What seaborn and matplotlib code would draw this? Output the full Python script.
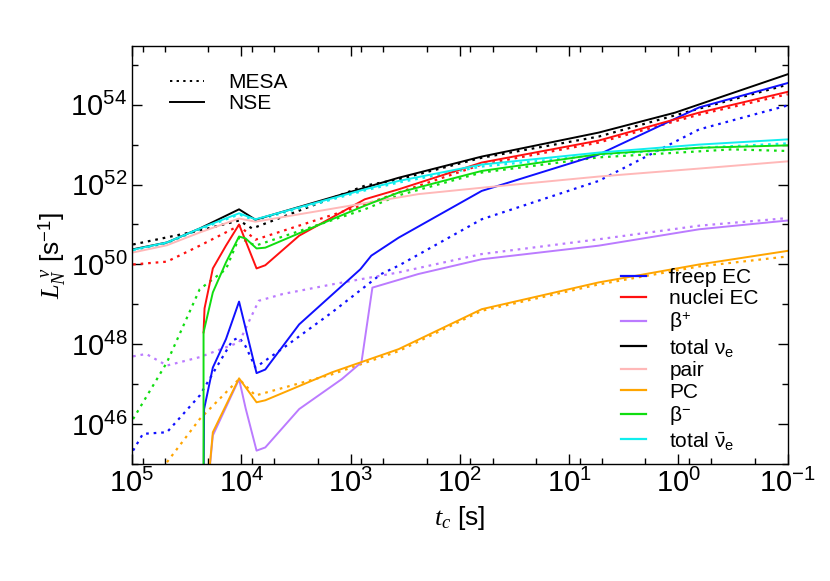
import numpy as np
import matplotlib
matplotlib.use("Agg")
import matplotlib.pyplot as plt
import seaborn as sns
from matplotlib.lines import Line2D
from matplotlib.ticker import LogLocator, NullFormatter, FixedLocator

plt.rcParams['font.family'] = 'Liberation Sans'
plt.rcParams['mathtext.fontset'] = 'custom'
plt.rcParams['mathtext.rm'] = 'Liberation Sans'
plt.rcParams['mathtext.it'] = 'Liberation Serif:italic'

# log10(t_c) and log10(L); NSE = solid, MESA = dotted
freep_t = [4.345, 4.34, 4.26, 4.14, 4.02, 3.86, 3.78, 3.47, 2.91, 2.81, 2.56, 1.80, 0.73, -0.19, -1.0]
freep_L = [44.0, 46.38, 47.42, 48.13, 49.07, 47.28, 47.37, 48.5, 49.88, 50.22, 50.67, 51.84, 52.75, 53.93, 54.54]
freep_mt = [4.99, 4.90, 4.68, 4.38, 4.08, 4.02, 3.96, 3.87, 3.62, 3.17, 2.72, 2.56, 1.80, 0.73, -0.19, -1.0]
freep_mL = [45.34, 45.76, 45.8, 46.72, 48.1, 48.17, 47.95, 47.42, 47.9, 48.8, 49.76, 49.97, 51.13, 52.09, 53.38, 53.98]

nuc_t = [4.345, 4.336, 4.26, 4.14, 4.02, 3.86, 3.78, 3.47, 2.87, 2.56, 1.80, 0.73, -0.19, -1.0]
nuc_L = [48.3, 48.9, 49.9, 50.47, 51.0, 49.9, 49.98, 50.72, 51.63, 51.88, 52.55, 53.1, 53.8, 54.32]
nuc_mt = [4.99, 4.68, 4.38, 4.02, 3.87, 2.87, 2.56, 1.80, 0.73, -0.19, -1.0]
nuc_mL = [50.0, 50.07, 50.47, 50.97, 50.62, 51.5, 51.8, 52.5, 53.05, 53.75, 54.26]

bplus_t = [4.32, 4.26, 4.02, 3.96, 3.86, 3.78, 3.47, 3.08, 2.90, 2.80, 2.38, 1.80, 0.73, -0.19, -1.0]
bplus_L = [44.0, 45.72, 47.13, 46.4, 45.34, 45.42, 46.38, 47.13, 47.55, 49.42, 49.76, 50.13, 50.47, 50.88, 51.1]
bplus_mt = [4.99, 4.87, 4.68, 4.38, 4.02, 3.84, 3.62, 3.17, 2.56, 1.80, 0.73, -0.19, -1.0]
bplus_mL = [47.7, 47.76, 47.47, 47.68, 48.05, 49.09, 49.26, 49.5, 49.8, 50.26, 50.63, 50.97, 51.16]

tot_t = [4.99, 4.68, 4.38, 4.02, 3.87, 2.87, 2.56, 1.80, 0.73, 0.03, -1.0]
tot_L = [50.38, 50.55, 50.9, 51.38, 51.12, 51.92, 52.17, 52.7, 53.3, 53.8, 54.76]
tot_mt = [4.99, 4.38, 4.02, 3.90, 2.87, 2.56, 1.80, 0.73, -0.19, -1.0]
tot_mL = [50.5, 50.85, 51.1, 50.9, 51.97, 52.13, 52.67, 53.2, 53.9, 54.5]

pair_t = [4.99, 4.68, 4.38, 4.02, 3.87, 2.38, 1.80, 0.73, -0.19, -1.0]
pair_L = [50.3, 50.48, 50.8, 51.15, 51.07, 51.76, 51.92, 52.2, 52.4, 52.58]

pc_t = [4.32, 4.26, 4.02, 3.86, 3.78, 3.17, 2.56, 1.80, 0.73, -0.19, -1.0]
pc_L = [44.0, 45.8, 47.15, 46.55, 46.6, 47.3, 47.88, 48.88, 49.55, 50.0, 50.34]
pc_mt = [4.68, 4.38, 4.02, 3.87, 3.17, 2.56, 1.80, 0.73, -0.19, -1.0]
pc_mL = [45.05, 46.13, 47.13, 46.72, 47.25, 47.83, 48.84, 49.5, 49.95, 50.2]

bminus_t = [4.345, 4.345, 4.26, 4.14, 4.02, 3.96, 3.86, 3.78, 3.17, 2.87, 2.56, 1.80, 0.73, -0.19, -1.0]
bminus_L = [44.0, 48.3, 49.3, 50.05, 50.7, 50.65, 50.4, 50.42, 51.13, 51.47, 51.8, 52.34, 52.76, 52.92, 52.98]
bminus_mt = [4.99, 4.68, 4.38, 4.14, 4.02, 3.87, 2.87, 2.56, 1.80, 0.73, -0.49, -1.0]
bminus_mL = [46.13, 47.55, 49.38, 49.88, 50.67, 50.47, 51.38, 51.73, 52.3, 52.68, 52.88, 52.84]

anti_t = [4.99, 4.68, 4.38, 4.02, 3.87, 2.87, 2.56, 1.80, 0.73, -0.19, -1.0]
anti_L = [50.37, 50.55, 50.9, 51.28, 51.13, 51.88, 52.09, 52.5, 52.8, 53.0, 53.13]
anti_mt = [4.99, 4.68, 4.38, 4.02, 3.87, 2.87, 2.56, 1.80, 0.73, -0.19, -1.0]
anti_mL = [50.35, 50.53, 50.88, 51.25, 51.1, 51.85, 52.05, 52.45, 52.74, 52.92, 53.03]

series = [
    ("freep EC", "#1010ff", freep_t, freep_L, freep_mt, freep_mL),
    ("nuclei EC", "#ff1010", nuc_t, nuc_L, nuc_mt, nuc_mL),
    (r"β$^{+}$", "#bb7bff", bplus_t, bplus_L, bplus_mt, bplus_mL),
    (r"total ν$_{\rm e}$", "black", tot_t, tot_L, tot_mt, tot_mL),
    ("pair", "#ffb8b8", pair_t, pair_L, None, None),
    ("PC", "#ffa500", pc_t, pc_L, pc_mt, pc_mL),
    (r"β$^{-}$", "#10dd10", bminus_t, bminus_L, bminus_mt, bminus_mL),
    (r"total $\bar{\rm ν}_{\rm e}$", "#10eeee", anti_t, anti_L, anti_mt, anti_mL),
]

dotted = (0, (1.2, 2.2))

fig = plt.figure(figsize=(8.3, 5.81), dpi=100)
ax = fig.add_axes([0.159, 0.201, 0.790, 0.720])

for name, col, t, L, mt, mL in series:
    if mt is not None:
        sns.lineplot(x=10 ** np.array(mt), y=10 ** np.array(mL), ax=ax, color=col,
                     linestyle=dotted, lw=1.6, sort=False, estimator=None)
for name, col, t, L, mt, mL in series:
    sns.lineplot(x=10 ** np.array(t), y=10 ** np.array(L), ax=ax, color=col,
                 lw=1.4, sort=False, estimator=None)

ax.set_xscale('log')
ax.set_yscale('log')
ax.set_xlim(1e5, 1e-1)
ax.set_ylim(1e45, 10 ** 55.47)

ax.yaxis.set_major_locator(FixedLocator([1e46, 1e48, 1e50, 1e52, 1e54]))
ax.yaxis.set_minor_locator(FixedLocator([1e45, 1e47, 1e49, 1e51, 1e53, 1e55]))
ax.yaxis.set_minor_formatter(NullFormatter())
ax.xaxis.set_major_locator(LogLocator(base=10, numticks=10))
ax.xaxis.set_minor_locator(LogLocator(base=10, subs=[2, 5, 8], numticks=10))
ax.xaxis.set_minor_formatter(NullFormatter())
ax.tick_params(which='both', direction='in', top=True, right=True, labelsize=21)
ax.tick_params(which='major', length=7, width=1)
ax.tick_params(which='minor', length=4, width=1)
for s in ax.spines.values():
    s.set_linewidth(1.0)

ax.set_xlabel(r"$t_c$ [s]", fontsize=19)
ax.set_ylabel(r"$L_N^{\ \nu}$ [s$^{-1}$]", fontsize=19, labelpad=2)

h_species = [Line2D([], [], color=c, lw=1.6) for _, c, *_ in series]
leg2 = ax.legend(h_species, [s[0] for s in series], loc='lower right',
                 bbox_to_anchor=(0.975, 0.0), frameon=False, fontsize=15,
                 handlelength=1.2, handletextpad=1.1, labelspacing=0.12,
                 borderaxespad=0.2)
ax.add_artist(leg2)
h_model = [Line2D([], [], color='black', lw=1.4, linestyle=dotted),
           Line2D([], [], color='black', lw=1.4)]
ax.legend(h_model, ["MESA", "NSE"], loc='upper left', bbox_to_anchor=(0.03, 0.98),
          frameon=False, fontsize=15, handlelength=1.6, handletextpad=1.2,
          labelspacing=0.1)

fig.savefig("out.png", dpi=100)
